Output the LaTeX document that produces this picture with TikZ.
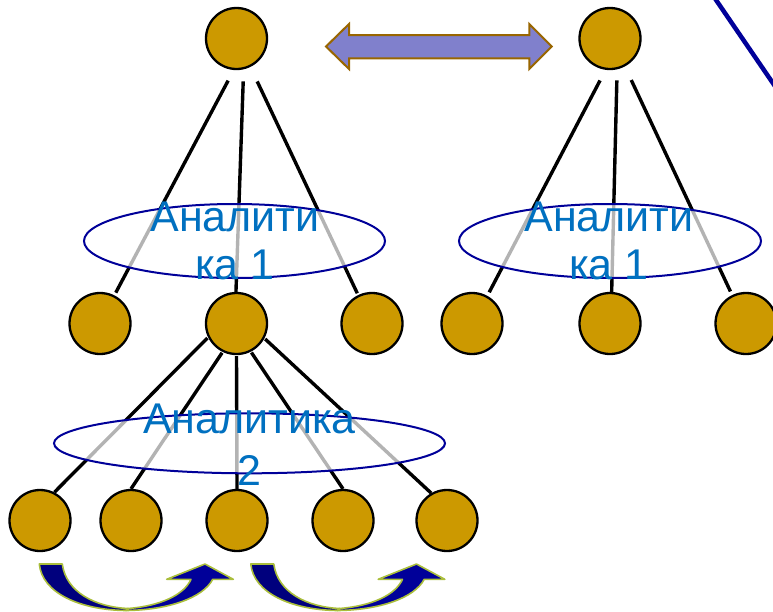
\documentclass[tikz,border=0pt]{standalone}
\usepackage{fontspec}
\setmainfont{Liberation Sans}
\usetikzlibrary{shapes.geometric}
\definecolor{nodegold}{RGB}{204,153,0}
\definecolor{navyline}{RGB}{0,0,153}
\definecolor{txtblue}{RGB}{0,112,192}
\definecolor{arrfill}{RGB}{128,128,204}
\definecolor{arrborder}{RGB}{153,102,0}
\definecolor{curvefillA}{RGB}{0,0,125}
\definecolor{curvefillB}{RGB}{0,0,153}
\definecolor{curveborder}{RGB}{170,190,60}
\begin{document}
\begin{tikzpicture}[x=1pt,y=-1pt,
  ball/.style={circle,draw=black,line width=2.3pt,fill=nodegold,minimum size=61pt,inner sep=0pt},
  edge/.style={draw=black,line width=3.4pt},
  ring/.style={ellipse,draw=navyline,line width=2pt,fill=white,fill opacity=0.7,inner sep=0pt},
  lbl/.style={text=txtblue,font=\fontsize{43}{48}\selectfont,align=center,inner sep=0pt},
  curvedarrowA/.style={draw=curveborder,fill=curvefillA,line width=1.6pt,line join=round},
  curvedarrowB/.style={draw=curveborder,fill=curvefillB,line width=1.6pt,line join=round},
  dblarrow/.style={draw=arrborder,fill=arrfill,line width=2pt,line join=miter},
]
\useasboundingbox (0,0) rectangle (773,611);

% nodes
\node[ball] (A) at (236.5,38.5) {};
\node[ball] (B) at (610,38.5) {};
\node[ball] (C1) at (100,323.5) {};
\node[ball] (C2) at (236.5,323.5) {};
\node[ball] (C3) at (372,323.5) {};
\node[ball] (D1) at (472,323.5) {};
\node[ball] (D2) at (610,323.5) {};
\node[ball] (D3) at (746,323.5) {};
\node[ball] (E1) at (40,520.5) {};
\node[ball] (E2) at (131,520.5) {};
\node[ball] (E3) at (237,520.5) {};
\node[ball] (E4) at (343,520.5) {};
\node[ball] (E5) at (447,520.5) {};

% connectors
\draw[edge,shorten <=12pt,shorten >=3pt] (A.265) -- (C1.63);
\draw[edge,shorten <=12pt] (A.283) -- (C2.91);
\draw[edge,shorten <=16pt,shorten >=2pt] (A.296) -- (C3.116);
\draw[edge,shorten <=12pt,shorten >=4pt] (B.262) -- (D1.61);
\draw[edge,shorten <=11pt] (B.283) -- (D2.87);
\draw[edge,shorten <=15pt,shorten >=4pt] (B.298) -- (D3.116);
\draw[edge,shorten <=1pt] (C2.206) -- (E1.63);
\draw[edge,shorten <=1pt] (C2.244) -- (E2.90);
\draw[edge,shorten <=1pt] (C2.270) -- (E3.90);
\draw[edge,shorten <=1pt] (C2.297) -- (E4.90);
\draw[edge,shorten <=1pt] (C2.332) -- (E5.120);

% ellipses and labels
\node[ring,minimum width=301pt,minimum height=74pt] (R1) at (234.5,241) {};
\node[ring,minimum width=302pt,minimum height=74pt] (R2) at (610,241) {};
\node[ring,minimum width=391pt,minimum height=60pt] (R3) at (249.5,443.3) {};
\node[lbl] (T1) at (235,240.5) {Аналити\\ка 1};
\node[lbl] (T2) at (609,240.5) {Аналити\\ка 1};
\node[lbl,font=\fontsize{43}{52}\selectfont] (T3) at (249.5,444.5) {Аналитика\\2};

% double arrow
\draw[dblarrow] (326,46.5) -- (349,24) -- (349,35) -- (529.3,35) -- (529.3,24)
  -- (551.7,46.5) -- (529.3,69) -- (529.3,58.3) -- (349,58.3) -- (349,69) -- cycle;

% diagonal line top right
\coordinate (L1) at (714,-3);
\coordinate (L2) at (781,95);
\draw[navyline,line width=4.5pt] (L1) -- (L2);

% curved arrows
\foreach \dx in {0,211.5}{
  \begin{scope}[xshift=\dx pt]
    \draw[curvedarrowA] (39.3,564) -- (62.3,564)
      .. controls (66,592) and (95,607) .. (128,608.5)
      -- (126,610.5)
      .. controls (80,610) and (42,593) .. (39.3,564) -- cycle;
    \draw[curvedarrowB] (126,610.5)
      .. controls (168,610) and (203,598) .. (212.7,579.3)
      -- (233.3,579.3) -- (205,564) -- (166.7,579.3) -- (191,579.3)
      .. controls (184,595) and (160,606) .. (128,608.5) -- cycle;
  \end{scope}
}
\end{tikzpicture}
\end{document}
